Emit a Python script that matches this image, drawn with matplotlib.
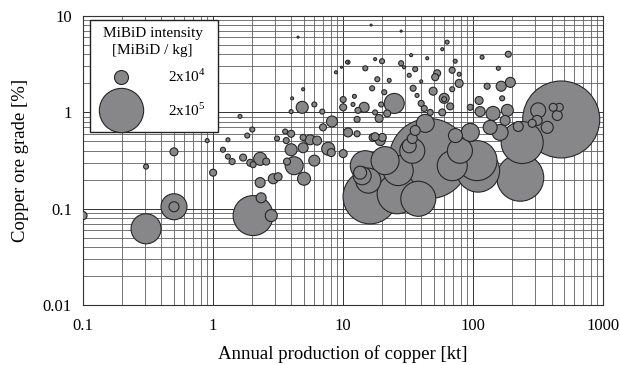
import numpy as np
import matplotlib.pyplot as plt
from matplotlib.patches import Rectangle
from matplotlib.ticker import LogLocator, FixedLocator, FixedFormatter, NullFormatter

plt.rcParams['font.family'] = ['Liberation Serif', 'DejaVu Serif']
plt.rcParams['mathtext.fontset'] = 'custom'
plt.rcParams['mathtext.rm'] = 'Liberation Serif'

# -------- data --------
# annual copper production [kt]
production = [0.1, 0.305, 0.5, 0.5, 0.305, 0.5, 0.9, 1.0, 1.3, 1.61,
              1.83, 2.0, 1.19, 1.3, 1.4, 1.7, 1.93, 2.03, 2.3, 2.56,
              2.3, 2.9, 3.16, 2.34, 2.03, 2.8, 3.58, 3.98, 3.1, 3.65,
              3.98, 3.7, 4.2, 4.92, 5.57, 6.3, 4.92, 7.67, 8.1, 6.0,
              5.0, 4.84, 6.0, 6.9, 3.98, 8.2, 7.0, 4.5, 10.7, 9.7,
              8.8, 4.92, 4.05, 10.0, 10.0, 12.2, 11.9, 12.8, 10.9, 13.0,
              16.4, 27.9, 63.0, 57.8, 33.3, 44.3, 72.7, 10.9, 17.6, 19.9,
              27.9, 29.4, 14.8, 35.8, 32.2, 52.8, 68.9, 78.0, 51.0, 18.3,
              22.6, 39.8, 78.0, 34.5, 68.9, 16.7, 49.2, 59.8, 59.8, 66.5,
              37.0, 20.7, 14.5, 19.6, 24.7, 39.8, 42.0, 46.7, 57.8, 17.6,
              21.8, 117, 186, 156, 193, 164, 128, 111, 167, 95,
              113, 142, 183, 475, 316, 412, 459, 371, 310, 443,
              284, 222, 238, 230, 109, 45.9, 16.1, 37.8, 26.0, 107,
              14.8, 13.5, 15.6, 14.0, 21.0, 26.5, 34.0, 34.0, 32.2, 19.3,
              17.6, 10.0, 69.0, 79.0, 73.0, 95.0, 135, 161, 176, 35.8,
              42.8, 18.9, 17.0, 20.0, 12.8]

# copper ore grade [%]
grade = [0.085, 0.062, 0.105, 0.105, 0.274, 0.39, 0.51, 0.237, 0.52, 0.91,
         0.575, 0.665, 0.41, 0.348, 0.309, 0.34, 0.30, 0.287, 0.33, 0.309,
         0.187, 0.205, 0.215, 0.13, 0.085, 0.085, 0.634, 0.60, 0.536, 0.51,
         0.41, 0.309, 0.28, 0.55, 0.52, 0.51, 0.43, 0.42, 0.383, 0.316,
         0.205, 1.13, 1.21, 1.02, 1.02, 0.805, 0.70, 6.04, 3.32, 2.94,
         2.61, 1.74, 1.40, 1.36, 1.13, 1.47, 1.21, 0.846, 0.62, 1.05,
         8.06, 6.98, 5.36, 4.53, 3.93, 3.65, 3.40, 3.32, 3.57, 3.40,
         3.24, 2.94, 2.87, 2.81, 2.43, 2.55, 2.74, 2.49, 2.32, 2.21,
         2.15, 2.10, 2.00, 1.78, 1.74, 1.78, 1.66, 1.40, 1.37, 1.155,
         1.50, 1.62, 1.13, 1.21, 1.24, 1.24, 1.10, 1.00, 1.00, 1.00,
         0.976, 3.74, 4.02, 2.87, 2.05, 1.87, 1.87, 1.33, 1.40, 1.13,
         1.02, 0.976, 1.05, 0.845, 1.05, 1.13, 1.13, 0.70, 0.826, 0.93,
         0.77, 0.715, 0.487, 0.21, 0.249, 0.332, 0.133, 0.127, 0.143, 0.316,
         0.28, 0.237, 0.196, 0.22, 0.316, 0.249, 0.40, 0.536, 0.45, 0.51,
         0.56, 0.374, 0.28, 0.40, 0.575, 0.62, 0.70, 0.62, 0.826, 0.65,
         0.77, 0.866, 0.55, 0.55, 0.60]

# MiBiD intensity [MiBiD / kg]
intensity = [6500, 92000, 69000, 10200, 2550, 6500, 1600, 5000, 1600, 1600,
             2550, 2550, 2550, 2550, 3700, 5000, 5000, 3700, 17200, 5000,
             10200, 10200, 6500, 10200, 163000, 14700, 2550, 5000, 2550, 3700,
             14700, 5000, 33000, 3700, 10200, 8300, 10200, 17200, 6500, 12300,
             17200, 14700, 2550, 2550, 1600, 12300, 5000, 400, 920, 400,
             920, 920, 920, 3700, 5000, 1600, 1600, 3700, 8300, 3700,
             400, 400, 1600, 920, 920, 920, 1600, 1600, 920, 2550,
             2550, 920, 2550, 2550, 1600, 5000, 3700, 1600, 5000, 2550,
             1600, 920, 6500, 3700, 2550, 2550, 6500, 10200, 2550, 5000,
             1600, 2550, 10200, 2550, 40800, 3700, 3700, 3700, 5000, 2550,
             5000, 1600, 3700, 1600, 10200, 10200, 3700, 6500, 2550, 3700,
             10200, 20000, 14700, 605000, 23000, 6500, 6500, 14700, 10200, 10200,
             6500, 10200, 180000, 225000, 189000, 653000, 298000, 125000, 163000, 163000,
             92000, 17200, 64000, 33000, 80000, 92000, 64000, 10200, 20000, 10200,
             6500, 6500, 92000, 64000, 20000, 33000, 20000, 26000, 10200, 10200,
             33000, 6500, 6500, 6500, 3700]

legend_values = [2e4, 2e5]
legend_labels = ["2x10$^4$", "2x10$^5$"]


def bubble_area(v):
    # marker area in pt^2; 2x10^4 -> ~14 px diameter
    return (0.72 * 14) ** 2 * np.asarray(v, dtype=float) / 2e4


x = np.array(production)
y = np.array(grade)
s = bubble_area(intensity)
order = np.argsort(-s)  # big ones first, small on top

fig = plt.figure(figsize=(6.2, 3.65), dpi=100)
ax = fig.add_axes([0.134, 0.164, 0.839, 0.792])

ax.scatter(x[order], y[order], s=s[order], c="#878789", edgecolors="#262626",
           linewidths=0.8, zorder=3)

ax.set_xscale("log")
ax.set_yscale("log")
ax.set_xlim(0.1, 1000)
ax.set_ylim(0.01, 10)

xt = [0.1, 1, 10, 100, 1000]
yt = [0.01, 0.1, 1, 10]
ax.xaxis.set_major_locator(FixedLocator(xt))
ax.xaxis.set_major_formatter(FixedFormatter(["0.1", "1", "10", "100", "1000"]))
ax.yaxis.set_major_locator(FixedLocator(yt))
ax.yaxis.set_major_formatter(FixedFormatter(["0.01", "0.1", "1", "10"]))
ax.xaxis.set_minor_locator(LogLocator(base=10, subs=np.arange(2, 10)))
ax.yaxis.set_minor_locator(LogLocator(base=10, subs=np.arange(2, 10)))
ax.xaxis.set_minor_formatter(NullFormatter())
ax.yaxis.set_minor_formatter(NullFormatter())

ax.grid(True, which="major", color="#333333", lw=0.7, zorder=0)
ax.grid(True, which="minor", color="#5e5e5e", lw=0.6, zorder=0)
ax.set_axisbelow(True)
ax.tick_params(which="both", length=0, labelsize=12)
ax.tick_params(axis="x", pad=9)
ax.tick_params(axis="y", pad=8)
for sp in ax.spines.values():
    sp.set_color("#333333")
    sp.set_linewidth(0.8)

ax.set_xlabel("Annual production of copper [kt]", fontsize=13.5, labelpad=8)
ax.set_ylabel("Copper ore grade [%]", fontsize=13.5, labelpad=10)

# -------- legend box --------
ax.add_patch(Rectangle((0.0135, 0.60), 0.245, 0.386, transform=ax.transAxes,
                       facecolor="white", edgecolor="#222222", lw=1.0, zorder=5))
ax.text(0.1335, 0.94, "MiBiD intensity", transform=ax.transAxes, ha="center",
        va="center", fontsize=11, zorder=6)
ax.text(0.1335, 0.88, "[MiBiD / kg]", transform=ax.transAxes, ha="center",
        va="center", fontsize=11, zorder=6)
for v, lab, yy in zip(legend_values, legend_labels, [0.79, 0.675]):
    ax.scatter([0.073], [yy], s=bubble_area(v), c="#878789", edgecolors="#262626",
               linewidths=0.8, transform=ax.transAxes, zorder=6, clip_on=False)
    ax.text(0.163, yy, lab, transform=ax.transAxes, ha="left", va="center",
            fontsize=11, zorder=6)

plt.savefig("out.png", dpi=100)
